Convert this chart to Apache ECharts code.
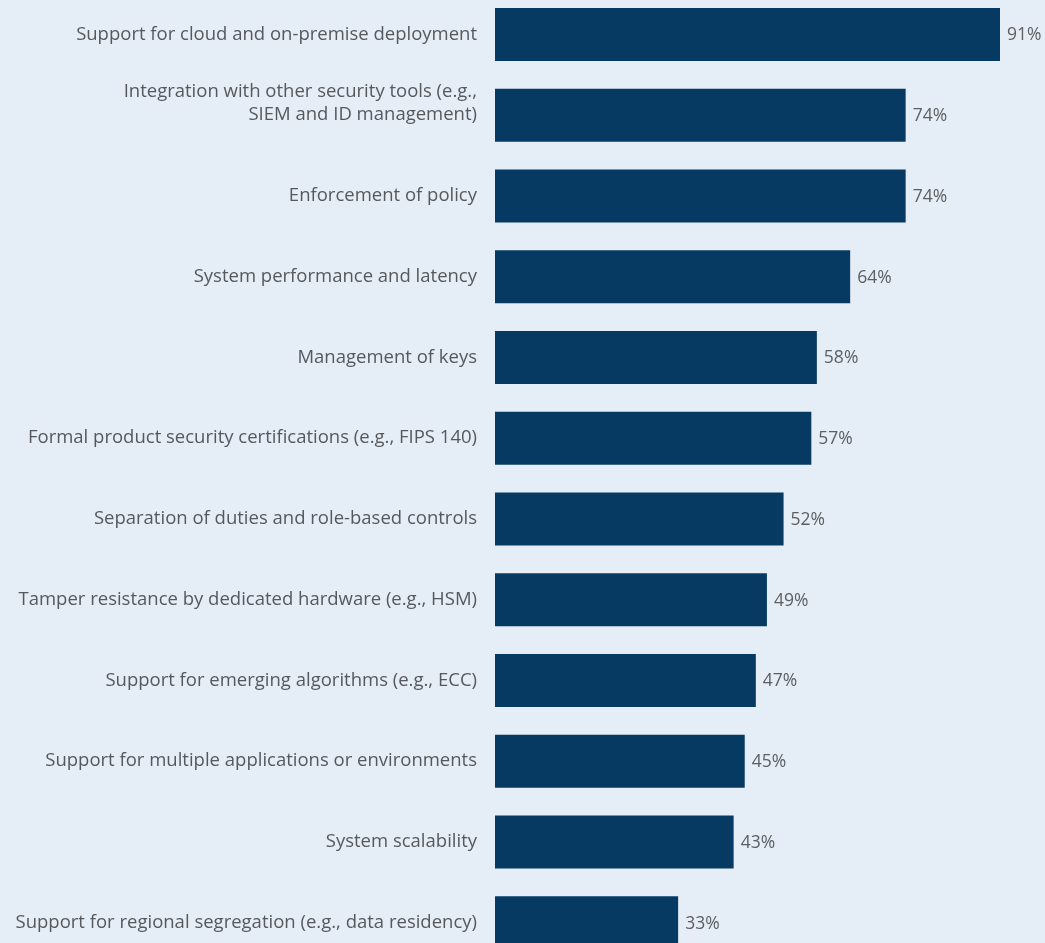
<!DOCTYPE html>
<html>
<head>
<meta charset="utf-8">
<style>
  html, body { margin: 0; padding: 0; background: #e5eef7; }
  #chart { width: 1045px; height: 943px; }
</style>
<script src="https://cdn.jsdelivr.net/npm/echarts@6/dist/echarts.min.js"></script>
</head>
<body>
<div id="chart"></div>
<script>
// Capabilities, listed top to bottom
const categories = [
  'Support for cloud and on-premise deployment',
  'Integration with other security tools (e.g.,\nSIEM and ID management)',
  'Enforcement of policy',
  'System performance and latency',
  'Management of keys',
  'Formal product security certifications (e.g., FIPS 140)',
  'Separation of duties and role-based controls',
  'Tamper resistance by dedicated hardware (e.g., HSM)',
  'Support for emerging algorithms (e.g., ECC)',
  'Support for multiple applications or environments',
  'System scalability',
  'Support for regional segregation (e.g., data residency)'
];
// Share of respondents, percent
const values = [91, 74, 74, 64, 58, 57, 52, 49, 47, 45, 43, 33];

const chart = echarts.init(document.getElementById('chart'), null, { renderer: 'canvas' });

chart.setOption({
  backgroundColor: '#e5eef7',
  animation: false,
  grid: {
    left: 495, right: 45, top: -6, bottom: -20,
    containLabel: false,
    outerBoundsMode: 'none'
  },
  xAxis: {
    type: 'value',
    min: 0,
    max: 91,
    show: false
  },
  yAxis: {
    type: 'category',
    inverse: true,
    data: categories,
    axisLine: { show: false },
    axisTick: { show: false },
    splitLine: { show: false },
    axisLabel: {
      margin: 18,
      align: 'right',
      color: '#55595e',
      fontFamily: 'Open Sans',
      fontSize: 18.5,
      lineHeight: 23,
      padding: [0, 0, 8, 0],
      // wrapped labels hang from the bar centre: their last line sits level with it
      formatter: function (v) {
        return v.indexOf('\n') >= 0 ? v + '\n' : v;
      }
    }
  },
  series: [{
    type: 'bar',
    data: values,
    barWidth: 53,
    itemStyle: { color: '#073a63' },
    label: {
      show: true,
      position: 'right',
      distance: 7,
      offset: [0, 1],
      formatter: '{c}%',
      color: '#5b5f63',
      fontFamily: 'Open Sans',
      fontSize: 17.5
    }
  }]
});
</script>
</body>
</html>
